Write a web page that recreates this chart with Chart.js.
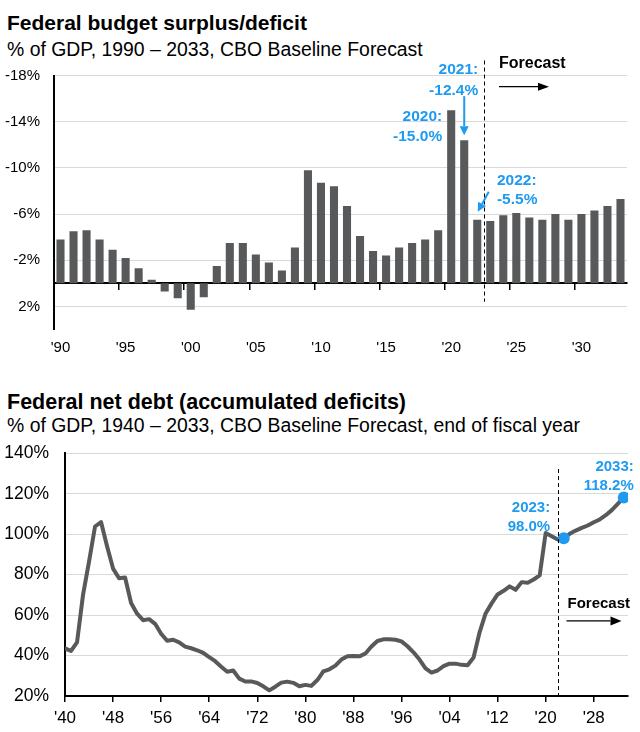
<!DOCTYPE html>
<html><head><meta charset="utf-8">
<script src="https://cdn.jsdelivr.net/npm/chart.js@4/dist/chart.umd.min.js"></script>
<style>
html,body{margin:0;padding:0;background:#fff;}
body{width:640px;height:732px;position:relative;overflow:hidden;font-family:"Liberation Sans",Arial,sans-serif;color:#000;}
.t{position:absolute;left:7px;white-space:nowrap;line-height:1;}
.h{font-weight:bold;font-size:21px;}
.s{font-size:19.4px;}
.c{position:absolute;left:0;width:640px;}
</style></head><body>
<div class="t h" style="top:12px">Federal budget surplus/deficit</div>
<div class="t s" style="top:40.1px">% of GDP, 1990 – 2033, CBO Baseline Forecast</div>
<div class="c" style="top:40px;height:330px"><canvas id="c1"></canvas></div>
<div class="t h" style="top:391.8px;font-size:21.5px">Federal net debt (accumulated deficits)</div>
<div class="t s" style="top:415.6px">% of GDP, 1940 – 2033, CBO Baseline Forecast, end of fiscal year</div>
<div class="c" style="top:440px;height:292px"><canvas id="c2"></canvas></div>
<script>
// ---------- DATA ----------
const deficitYears = [1990,1991,1992,1993,1994,1995,1996,1997,1998,1999,2000,2001,2002,2003,2004,2005,2006,2007,2008,2009,2010,2011,2012,2013,2014,2015,2016,2017,2018,2019,2020,2021,2022,2023,2024,2025,2026,2027,2028,2029,2030,2031,2032,2033];
const deficitValues = [-3.8,-4.5,-4.6,-3.8,-2.9,-2.2,-1.3,-0.3,0.7,1.3,2.3,1.2,-1.5,-3.5,-3.5,-2.5,-1.8,-1.1,-3.1,-9.8,-8.7,-8.4,-6.7,-4.1,-2.8,-2.4,-3.1,-3.5,-3.8,-4.6,-15.0,-12.4,-5.5,-5.4,-5.9,-6.1,-5.7,-5.5,-6.0,-5.5,-6.0,-6.3,-6.7,-7.3];
const deficitTicks = [-18,-14,-10,-6,-2,2];
const deficitCallouts = [2020, 2021, 2022];
const deficitLastActual = 2022;

const debtYears = [1940,1941,1942,1943,1944,1945,1946,1947,1948,1949,1950,1951,1952,1953,1954,1955,1956,1957,1958,1959,1960,1961,1962,1963,1964,1965,1966,1967,1968,1969,1970,1971,1972,1973,1974,1975,1976,1977,1978,1979,1980,1981,1982,1983,1984,1985,1986,1987,1988,1989,1990,1991,1992,1993,1994,1995,1996,1997,1998,1999,2000,2001,2002,2003,2004,2005,2006,2007,2008,2009,2010,2011,2012,2013,2014,2015,2016,2017,2018,2019,2020,2021,2022,2023,2024,2025,2026,2027,2028,2029,2030,2031,2032,2033];
const debtValues = [43.5,42.3,46.5,70.0,86.4,103.8,106.0,94.0,83.0,78.2,78.6,66.0,60.7,57.5,58.0,55.7,50.8,47.3,47.8,46.5,44.4,43.6,42.6,41.3,39.2,37.2,34.5,32.0,32.6,28.6,27.2,27.2,26.4,24.8,22.8,24.6,26.6,27.1,26.5,24.8,25.5,25.0,27.9,32.2,33.2,35.0,38.0,39.6,39.8,39.6,41.0,44.5,47.2,48.0,48.0,47.8,47.0,44.6,41.6,38.0,33.7,31.6,32.6,34.8,36.0,36.0,35.4,35.2,39.0,51.5,60.8,65.8,70.2,72.0,74.2,72.5,76.3,76.0,77.6,79.6,100.6,99.0,97.4,98.0,100.2,101.8,103.1,104.3,105.9,107.3,109.4,111.9,115.0,118.2];
const debtTicks = [20,40,60,80,100,120,140];
const debtYearTicks = [1940,1948,1956,1964,1972,1980,1988,1996,2004,2012,2020,2028];
const debtHighlights = [2023, 2033];
const debtLastActual = 2022;

// ---------- STYLE ----------
const GRAY = '#58595B';
const BLUE = '#1E9BF0';
const GRID = '#d9d9d9';
const FONT = '"Liberation Sans", Arial, sans-serif';
Chart.defaults.font.family = FONT;
Chart.defaults.color = '#000';

function arrow(ctx, x1, y1, x2, y2, color, lw, headLen, headW) {
  const a = Math.atan2(y2 - y1, x2 - x1);
  const bx = x2 - headLen * Math.cos(a), by = y2 - headLen * Math.sin(a);
  ctx.save();
  ctx.strokeStyle = color; ctx.fillStyle = color; ctx.lineWidth = lw;
  ctx.beginPath(); ctx.moveTo(x1, y1); ctx.lineTo(bx, by); ctx.stroke();
  ctx.beginPath(); ctx.moveTo(x2, y2);
  ctx.lineTo(bx + headW / 2 * Math.sin(a), by - headW / 2 * Math.cos(a));
  ctx.lineTo(bx - headW / 2 * Math.sin(a), by + headW / 2 * Math.cos(a));
  ctx.closePath(); ctx.fill();
  ctx.restore();
}
const fmt = v => v.toFixed(1) + '%';
const noPad = s => { s.paddingTop = 0; s.paddingBottom = 0; s.paddingLeft = 0; s.paddingRight = 0; };

// ---------- CHART 1 ----------
const topNotes = {
  id: 'topNotes',
  afterDraw(chart) {
    const ctx = chart.ctx, xs = chart.scales.x, ys = chart.scales.y, ca = chart.chartArea;
    const idx = y => deficitYears.indexOf(y);
    const bx = y => xs.getPixelForValue(idx(y));
    const by = y => ys.getPixelForValue(deficitValues[idx(y)]);
    const dx = Math.round(xs.getPixelForValue(idx(deficitLastActual) + 0.5)) + 0.5;
    ctx.save();
    ctx.strokeStyle = '#000'; ctx.lineWidth = 1; ctx.setLineDash([4, 3]);
    ctx.beginPath(); ctx.moveTo(dx, ca.top - 15); ctx.lineTo(dx, ys.getPixelForValue(1.6)); ctx.stroke();
    ctx.setLineDash([]);
    ctx.fillStyle = '#000'; ctx.font = 'bold 16px ' + FONT; ctx.textAlign = 'left'; ctx.textBaseline = 'alphabetic';
    ctx.fillText('Forecast', dx + 14.5, ca.top - 7.5);
    arrow(ctx, dx + 14.5, ca.top + 11.2, dx + 64.5, ca.top + 11.2, '#000', 1.2, 11, 8);

    ctx.fillStyle = BLUE; ctx.font = 'bold 15.5px ' + FONT;
    const [y0, y1, y2] = deficitCallouts;
    const v = y => deficitValues[idx(y)];
    ctx.textAlign = 'right';
    ctx.fillText(y0 + ':', bx(y0) - 9, by(y0) + 11);
    ctx.fillText(fmt(v(y0)), bx(y0) - 9, by(y0) + 30.5);
    ctx.fillText(y1 + ':', bx(y1) + 14, by(y1) - 65.7);
    ctx.fillText(fmt(v(y1)), bx(y1) + 14, by(y1) - 45.2);
    arrow(ctx, bx(y1), by(y1) - 44, bx(y1), by(y1) - 5, BLUE, 2, 9, 9);
    ctx.textAlign = 'left';
    ctx.fillText(y2 + ':', bx(y2) + 19.7, by(y2) - 34.7);
    ctx.fillText(fmt(v(y2)), bx(y2) + 19.7, by(y2) - 15.5);
    arrow(ctx, bx(y2) + 11.5, by(y2) - 28, bx(y2) + 0.5, by(y2) - 8, BLUE, 2, 9, 9);
    ctx.restore();
  }
};

new Chart(document.getElementById('c1'), {
  type: 'bar',
  data: {
    labels: deficitYears,
    datasets: [{
      data: deficitValues, backgroundColor: GRAY, borderWidth: 0,
      barPercentage: 0.62, categoryPercentage: 1, xAxisID: 'x', yAxisID: 'y'
    }]
  },
  options: {
    responsive: true, maintainAspectRatio: false, animation: false,
    layout: { padding: { top: 35.5, right: 13, left: 0, bottom: 0 } },
    plugins: { legend: { display: false }, tooltip: { enabled: false } },
    scales: {
      x: {
        type: 'category', position: 'bottom', offset: true,
        grid: { display: false, drawTicks: false }, border: { display: false },
        ticks: {
          autoSkip: false, maxRotation: 0, minRotation: 0, padding: 9, font: { size: 15 },
          callback: (val, i) => deficitYears[i] % 5 === 0 ? "'" + String(deficitYears[i]).slice(2) : ''
        },
        afterFit: s => { s.height = 40.5; noPad(s); }
      },
      x0: {
        type: 'category', axis: 'x', position: { y: 0 }, offset: true,
        grid: {
          offset: true, drawOnChartArea: false, drawTicks: true, tickLength: 6, lineWidth: 1.5,
          color: c => (c.index !== undefined && c.index % 5 === 0) ? '#000' : 'rgba(0,0,0,0)'
        },
        border: { color: '#000', width: 2 },
        ticks: { display: false, autoSkip: false },
        afterFit: s => { noPad(s); }
      },
      y: {
        type: 'linear', min: -18, max: 4, reverse: true,
        afterBuildTicks: s => { s.ticks = deficitTicks.map(v => ({ value: v })); },
        afterFit: s => { s.width = 54; noPad(s); },
        grid: { color: GRID, lineWidth: 1, drawTicks: false },
        border: { color: '#000', width: 2 },
        ticks: { padding: 14, font: { size: 15 }, callback: v => v + '%' }
      }
    }
  },
  plugins: [topNotes]
});

// ---------- CHART 2 ----------
const bottomNotes = {
  id: 'bottomNotes',
  afterDraw(chart) {
    const ctx = chart.ctx, xs = chart.scales.x, ys = chart.scales.y, ca = chart.chartArea;
    const dx = Math.round(xs.getPixelForValue(debtLastActual)) + 0.5;
    ctx.save();
    ctx.strokeStyle = '#000'; ctx.lineWidth = 1; ctx.setLineDash([4, 3]);
    ctx.beginPath(); ctx.moveTo(dx, ys.getPixelForValue(132.2)); ctx.lineTo(dx, ca.bottom); ctx.stroke();
    ctx.setLineDash([]);
    ctx.fillStyle = '#000'; ctx.font = 'bold 15px ' + FONT; ctx.textAlign = 'left';
    ctx.fillText('Forecast', dx + 9, ys.getPixelForValue(63.5));
    const ay = ys.getPixelForValue(57.1);
    arrow(ctx, dx + 8, ay, dx + 63, ay, '#000', 1.2, 11, 9);

    ctx.fillStyle = BLUE; ctx.font = 'bold 15px ' + FONT; ctx.textAlign = 'right';
    const offs = [-13.5, 10];
    debtHighlights.forEach((yr, k) => {
      const val = debtValues[debtYears.indexOf(yr)];
      const px = xs.getPixelForValue(yr), py = ys.getPixelForValue(val);
      ctx.fillText(yr + ':', px + offs[k], py - 26.3);
      ctx.fillText(fmt(val), px + offs[k], py - 7.5);
    });
    ctx.restore();
  }
};

new Chart(document.getElementById('c2'), {
  type: 'line',
  data: {
    datasets: [
      {
        data: debtHighlights.map(yr => ({ x: yr, y: debtValues[debtYears.indexOf(yr)] })),
        showLine: false, pointRadius: 6, pointBackgroundColor: BLUE, pointBorderWidth: 0,
        borderColor: BLUE
      },
      {
        data: debtYears.map((yr, i) => ({ x: yr, y: debtValues[i] })),
        borderColor: GRAY, borderWidth: 4, pointRadius: 0, tension: 0,
        borderJoinStyle: 'round', borderCapStyle: 'round', fill: false
      }
    ]
  },
  options: {
    responsive: true, maintainAspectRatio: false, animation: false,
    layout: { padding: { top: 13.3, right: 12, left: 0, bottom: 0 } },
    plugins: { legend: { display: false }, tooltip: { enabled: false } },
    scales: {
      x: {
        type: 'linear', min: 1940, max: 2033.7,
        afterBuildTicks: s => { s.ticks = debtYearTicks.map(v => ({ value: v })); },
        afterFit: s => { s.height = 36; noPad(s); },
        grid: { drawOnChartArea: false, drawTicks: true, tickLength: 6, color: '#000', lineWidth: 1.5 },
        border: { color: '#000', width: 2 },
        ticks: { padding: 6, font: { size: 17 }, maxRotation: 0, autoSkip: false, callback: v => "'" + String(v).slice(2) }
      },
      y: {
        type: 'linear', min: 20, max: 140,
        afterBuildTicks: s => { s.ticks = debtTicks.map(v => ({ value: v })); },
        afterFit: s => { s.width = 65; noPad(s); },
        grid: { color: c => (c.tick && c.tick.value === 20) ? 'rgba(0,0,0,0)' : GRID, drawTicks: false },
        border: { color: '#000', width: 2 },
        ticks: { padding: 16, font: { size: 17.5 }, callback: v => v + '%' }
      }
    }
  },
  plugins: [bottomNotes]
});
</script>
</body></html>
